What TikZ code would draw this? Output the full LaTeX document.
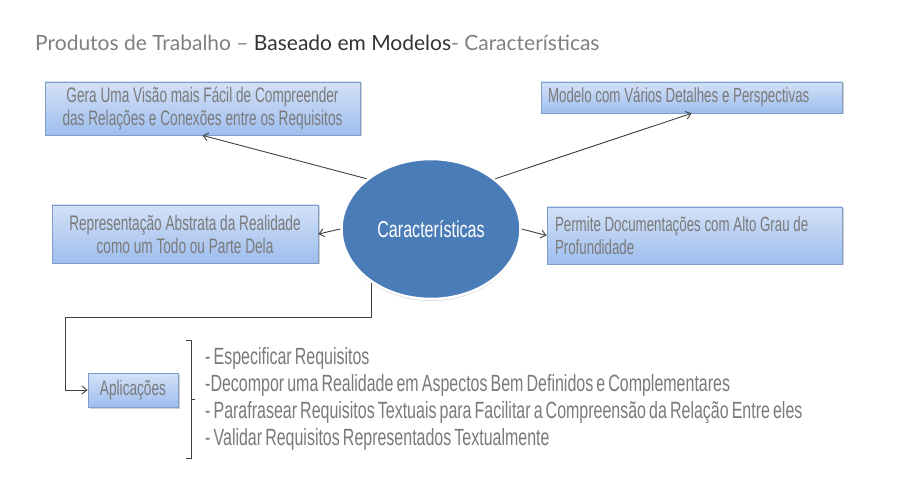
\documentclass[tikz,border=0pt]{standalone}
\usepackage{fontspec}
\setmainfont{Lato}
\newfontfamily\condfont[FakeStretch=0.65]{Liberation Sans}
\newfontfamily\listfont[FakeStretch=0.68,WordSpace=0.7]{Liberation Sans}
\newfontfamily\ellfont[FakeStretch=0.7]{Liberation Sans}
\usetikzlibrary{shadows,arrows.meta,shapes.geometric,calc}
\definecolor{boxtop}{HTML}{D3E1F7}
\definecolor{boxbot}{HTML}{9EBEEE}
\definecolor{boxedge}{HTML}{7F9CCB}
\definecolor{txtgray}{HTML}{7A7A7A}
\definecolor{ellfill}{HTML}{4A7DB8}
\tikzset{
  infobox/.style={draw=boxedge, line width=0.8pt, top color=boxtop, bottom color=boxbot,
    drop shadow={shadow xshift=1.5pt, shadow yshift=-1.5pt, opacity=0.35},
    font=\condfont\fontsize{21}{23}\selectfont, text=txtgray, inner sep=0pt},
  conn/.style={draw=black!75, line width=0.9pt, -{Straight Barb[length=5pt,width=8pt]}},
  listtext/.style={font=\listfont\fontsize{23.5}{26.7}\selectfont, text=txtgray, align=left, anchor=base west, inner sep=0pt}
}
\begin{document}
\begin{tikzpicture}[x=1pt,y=-1pt]
\fill[white] (0,0) rectangle (909,502);
\useasboundingbox (0,0) rectangle (909,502);
% title
\node[anchor=base west, inner sep=0pt, font=\fontsize{21}{24}\selectfont] (title) at (35,51)
  {\textcolor{black!50}{Produtos de Trabalho –} \textcolor{black!80}{Baseado em Modelos}\textcolor{black!50}{ - Características}};
% boxes
\node[infobox, minimum width=315pt, minimum height=53pt, align=center] (b1) at (202.5,108.5)
  {Gera Uma Visão mais Fácil de Compreender\\das Relações e Conexões entre os Requisitos};
\node[infobox, minimum width=301pt, minimum height=31pt, align=flush left, text width=287pt,
  font=\condfont\fontsize{20.5}{23}\selectfont] (b2) at (691.5,97.5)
  {Modelo com Vários Detalhes e Perspectivas};
\node[infobox, minimum width=266pt, minimum height=58pt, align=center] (b3) at (185,234)
  {Representação Abstrata da Realidade\\como um Todo ou Parte Dela};
\node[infobox, minimum width=295pt, minimum height=57pt, align=flush left, text width=279pt,
  font=\condfont\fontsize{20.5}{23}\selectfont] (b4) at (694.5,235.5)
  {Permite Documentações com Alto Grau de\\Profundidade};
\node[infobox, minimum width=90pt, minimum height=34pt, align=center] (ap) at (133,390)
  {Aplicações};
% ellipse
\node[ellipse, draw=white, line width=2.5pt, fill=ellfill, minimum width=179pt, minimum height=140pt,
  drop shadow={shadow xshift=0pt, shadow yshift=-2pt, opacity=0.3},
  font=\ellfont\fontsize{23}{25}\selectfont, text=white] (c) at (431,229) {Características};
% connectors
\draw[conn] (c.142) -- (b1.south);
\draw[conn] (c.38) -- (b2.south);
\draw[conn] (c.west) -- (b3.east);
\draw[conn] (c.east) -- (b4.west);
\coordinate (k1) at ($(c.222)+(0,35)$);
\coordinate (k2) at (65,0);
\draw[conn] (c.222) -- (k1) -- (k1 -| k2) |- (ap.west);
% bracket
\coordinate (br) at (191,399);
\draw[black!75, line width=0.9pt] ($(br)+(-5,-59)$) -- ($(br)+(0,-59)$) -- ($(br)+(0,59)$) -- ($(br)+(-5,59)$)
  ($(br)$) -- ($(br)+(4,0)$);
% list
\node[listtext] (list) at (205,445)
  {- Especificar Requisitos\\
   -Decompor uma Realidade em Aspectos Bem Definidos e Complementares\\
   - Parafrasear Requisitos Textuais para Facilitar a Compreensão da Relação Entre eles\\
   - Validar Requisitos Representados Textualmente};
\end{tikzpicture}
\end{document}
